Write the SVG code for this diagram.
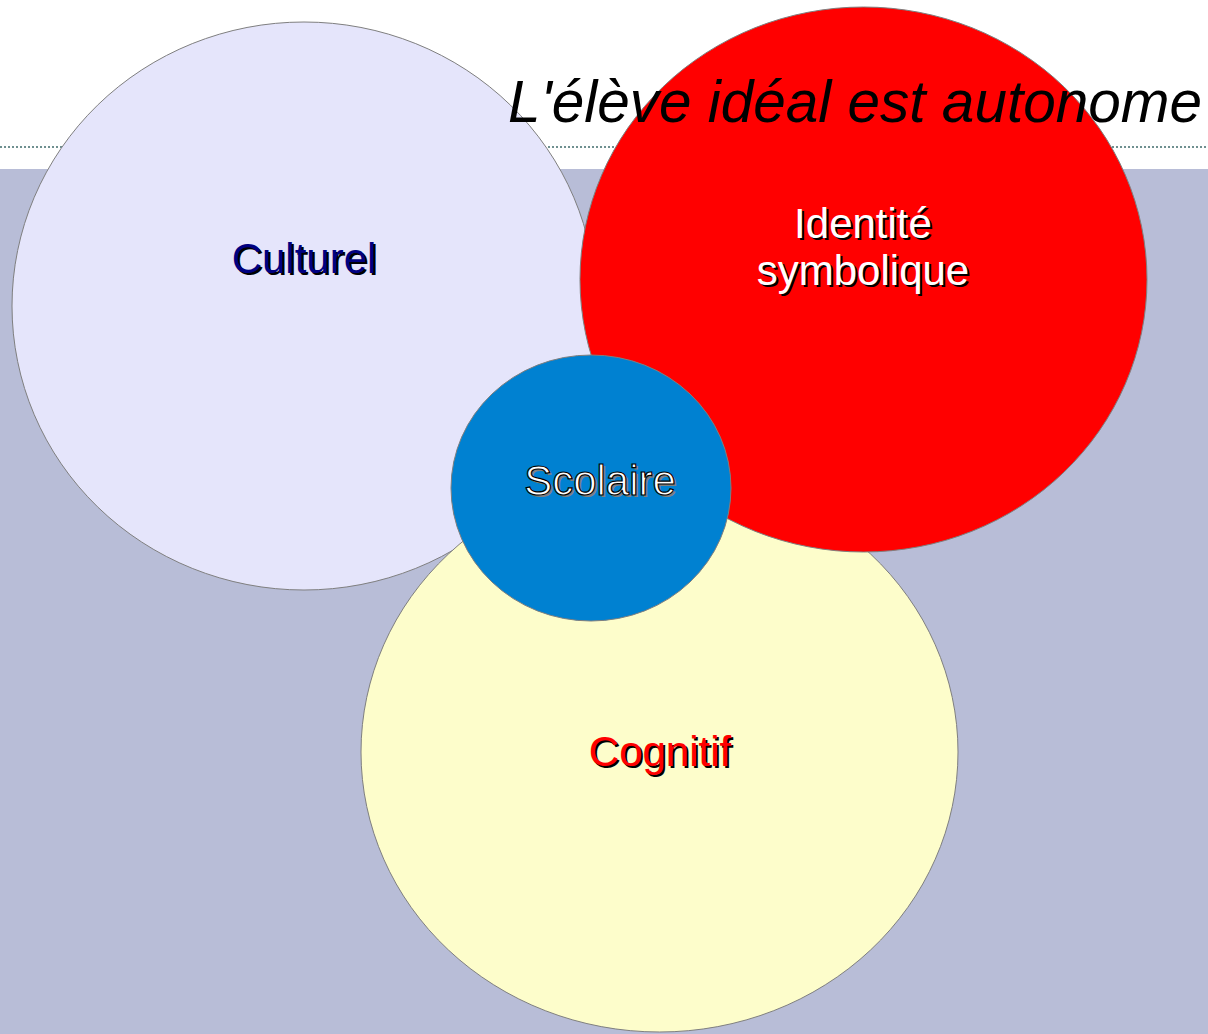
<svg xmlns="http://www.w3.org/2000/svg" width="1208" height="1034" viewBox="0 0 1208 1034">
<style>
.c{stroke:#7f7f7f;stroke-width:1}
.t{font-family:"Liberation Sans",Arial,sans-serif;font-size:42px;text-anchor:middle}
</style>
<rect x="0" y="0" width="1208" height="1034" fill="#ffffff"/>
<rect x="0" y="169" width="1208" height="865" fill="#b8bdd7"/>
<line x1="0" y1="147" x2="1208" y2="147" stroke="#6f9090" stroke-width="2" stroke-dasharray="2,2"/>
<g id="culturel">
<ellipse class="c" cx="304" cy="306" rx="292" ry="284" fill="#e5e5fb"/>
<text class="t" x="306" y="275" fill="#000000">Culturel</text>
<text class="t" x="304" y="273" fill="#000080">Culturel</text>
</g>
<g id="cognitif">
<ellipse class="c" cx="659.5" cy="752" rx="298.5" ry="280" fill="#fdfdcb"/>
<text class="t" x="662" y="768" fill="#000000">Cognitif</text>
<text class="t" x="660" y="766" fill="#ff0000">Cognitif</text>
</g>
<g id="identite">
<ellipse class="c" cx="863.5" cy="279.5" rx="283.5" ry="272.5" fill="#ff0000"/>
<text class="t" x="865" y="240" fill="#000000">Identité</text>
<text class="t" x="863" y="238" fill="#ffffff">Identité</text>
<text class="t" x="865" y="287" fill="#000000">symbolique</text>
<text class="t" x="863" y="285" fill="#ffffff">symbolique</text>
</g>
<g id="scolaire">
<ellipse class="c" cx="591" cy="488" rx="140" ry="133" fill="#0081d1"/>
<text class="t" x="602" y="497" fill="#7f7f7f">Scolaire</text>
<text class="t" x="600" y="495" fill="#ffffff" stroke="#000000" stroke-width="1.2">Scolaire</text>
</g>
<g id="title">
<text x="855" y="122" font-family="Liberation Sans,Arial,sans-serif" font-size="58.5" font-style="italic" text-anchor="middle" fill="#000000">L'élève idéal est autonome</text>
</g>
<g id="connectors"></g>
</svg>
